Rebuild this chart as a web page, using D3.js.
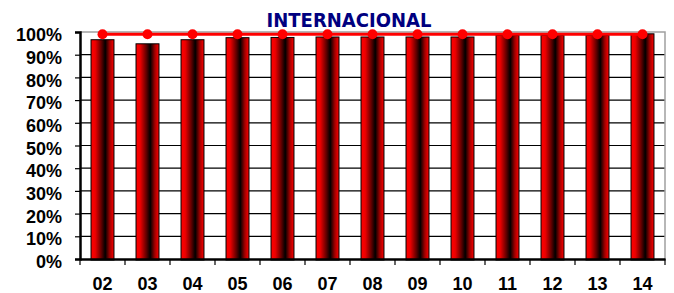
<!DOCTYPE html>
<html>
<head>
<meta charset="utf-8">
<script src="https://cdn.jsdelivr.net/npm/d3@7"></script>
<style>
  body { margin: 0; background: #fff; }
  text { font-family: "Liberation Sans", Arial, sans-serif; font-weight: bold; }
</style>
</head>
<body>
<svg id="chart" width="674" height="293"></svg>
<script>
var categories = ["02", "03", "04", "05", "06", "07", "08", "09", "10", "11", "12", "13", "14"];
var barValues = [96.6, 94.8, 96.6, 97.5, 97.6, 97.8, 97.8, 97.8, 97.8, 98.5, 98.5, 98.5, 99.2];
var lineValues = [99, 99, 99, 99, 99, 99, 99, 99, 99, 99, 99, 99, 99];
var yTicks = [0, 10, 20, 30, 40, 50, 60, 70, 80, 90, 100];
var title = "INTERNACIONAL";

var plotLeft = 80, plotRight = 665, plotTop = 32, plotBottom = 259;

var svg = d3.select("#chart");

var x = d3.scaleBand()
    .domain(categories)
    .range([plotLeft, plotRight])
    .paddingInner(0.49)
    .paddingOuter(0.245);

var y = d3.scaleLinear()
    .domain([0, 100])
    .range([plotBottom, plotTop]);

// bar gradient: red edges, black towards the right of centre
var grad = svg.append("defs").append("linearGradient")
    .attr("id", "barGrad")
    .attr("x1", "0%").attr("x2", "100%")
    .attr("y1", "0%").attr("y2", "0%");
[[0, "#ff0000"], [0.18, "#ee0000"], [0.45, "#600000"], [0.62, "#000000"], [0.82, "#a00000"], [1, "#ff0000"]]
    .forEach(function(s) {
        grad.append("stop").attr("offset", s[0]).attr("stop-color", s[1]);
    });

// gridlines
svg.append("g")
    .selectAll("line")
    .data(yTicks.filter(function(t) { return t > 0 && t < 100; }))
    .enter().append("line")
        .attr("x1", plotLeft).attr("x2", plotRight)
        .attr("y1", function(d) { return y(d); })
        .attr("y2", function(d) { return y(d); })
        .attr("stroke", "#000")
        .attr("stroke-width", 1.2);

// plot border top/right
svg.append("path")
    .attr("d", "M" + plotLeft + "," + y(100) + "H" + plotRight + "V" + plotBottom)
    .attr("fill", "none")
    .attr("stroke", "#a0a0a0")
    .attr("stroke-width", 1.5);

// bars
svg.append("g")
    .selectAll("rect")
    .data(barValues)
    .enter().append("rect")
        .attr("x", function(d, i) { return x(categories[i]); })
        .attr("y", function(d) { return y(d); })
        .attr("width", x.bandwidth())
        .attr("height", function(d) { return y(0) - y(d) + 1; })
        .attr("fill", "url(#barGrad)")
        .attr("stroke", "#000")
        .attr("stroke-width", 1);

// y axis
var yAxis = svg.append("g")
    .attr("transform", "translate(" + plotLeft + ",0)")
    .call(d3.axisLeft(y).tickValues(yTicks).tickSize(5).tickFormat(function(d) { return d + "%"; }));
yAxis.select(".domain").attr("stroke", "#000").attr("stroke-width", 2.5);
yAxis.selectAll(".tick line").attr("stroke", "#000").attr("stroke-width", 1.2);
yAxis.selectAll(".tick text")
    .attr("x", -18)
    .attr("dy", "0.48em")
    .attr("fill", "#000")
    .style("font-size", "18px");

// x axis, ticks between categories
var xAxis = svg.append("g")
    .attr("transform", "translate(0," + plotBottom + ")")
    .call(d3.axisBottom(x).tickSize(0).tickPadding(18));
xAxis.select(".domain").attr("stroke", "#000").attr("stroke-width", 2.5);
xAxis.selectAll(".tick text")
    .attr("fill", "#000")
    .style("font-size", "18px");
xAxis.append("g")
    .selectAll("line")
    .data(d3.range(categories.length + 1))
    .enter().append("line")
        .attr("x1", function(i) { return plotLeft + i * x.step(); })
        .attr("x2", function(i) { return plotLeft + i * x.step(); })
        .attr("y1", 0).attr("y2", 6)
        .attr("stroke", "#000")
        .attr("stroke-width", 1.2);

// line series
var line = d3.line()
    .x(function(d, i) { return x(categories[i]) + x.bandwidth() / 2; })
    .y(function(d) { return y(d); });

svg.append("path")
    .datum(lineValues)
    .attr("d", line)
    .attr("fill", "none")
    .attr("stroke", "#ff0000")
    .attr("stroke-width", 3);

svg.append("g")
    .selectAll("circle")
    .data(lineValues)
    .enter().append("circle")
        .attr("cx", function(d, i) { return x(categories[i]) + x.bandwidth() / 2; })
        .attr("cy", function(d) { return y(d); })
        .attr("r", 5)
        .attr("fill", "#ff0000");

// title
svg.append("text")
    .attr("x", 349)
    .attr("y", 27)
    .attr("text-anchor", "middle")
    .attr("fill", "#000080")
    .style("font-family", "'DejaVu Sans Condensed', 'DejaVu Sans', sans-serif")
    .style("font-size", "20px")
    .text(title);
</script>
</body>
</html>
